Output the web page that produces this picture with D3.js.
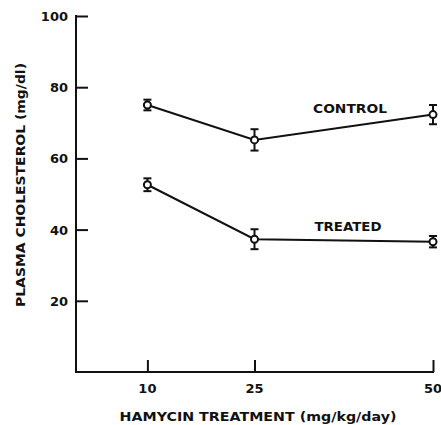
<!DOCTYPE html>
<html>
<head>
<meta charset="utf-8">
<script src="https://cdn.jsdelivr.net/npm/d3@7"></script>
<style>
  body { margin: 0; background: #fff; }
  text { font-family: "DejaVu Sans", sans-serif; font-weight: bold; fill: #111; }
</style>
</head>
<body>
<svg id="chart"></svg>
<script>
const w = 441;
const h = 425;

// doses (mg/kg/day)
const doses = [10, 25, 50];
// plasma cholesterol means and error (mg/dl)
const controlMean = [75, 65.2, 72.3];
const controlErr = [1.5, 3, 2.7];
const treatedMean = [52.6, 37.3, 36.6];
const treatedErr = [1.8, 2.8, 1.6];
const yTicks = [20, 40, 60, 80, 100];

const x = d3.scaleLinear().domain([0, 50]).range([76, 433]);
const y = d3.scaleLinear().domain([0, 100]).range([372, 16]);

let svg = d3.select('#chart')
  .attr('width', w)
  .attr('height', h);

//y axis, ticks pointing inward
let yAxis = svg.append('g')
  .attr('transform', `translate(${x(0)},0)`)
  .call(d3.axisRight(y).tickValues(yTicks).tickSize(12).tickFormat(''));
yAxis.select('.domain').remove();
yAxis.selectAll('line').attr('stroke', '#111').attr('stroke-width', 2);

svg.append('line')
  .attr('x1', x(0)).attr('x2', x(0))
  .attr('y1', y(100) - 1).attr('y2', y(0) + 1)
  .attr('stroke', '#111').attr('stroke-width', 2);

svg.selectAll('text.ylab')
  .data(yTicks)
  .enter()
  .append('text')
    .attr('class', 'ylab')
    .attr('x', x(0) - 8)
    .attr('y', d => y(d) + 5)
    .attr('text-anchor', 'end')
    .style('font-size', '13px')
    .text(d => d);

//x axis, ticks pointing up
let xAxis = svg.append('g')
  .attr('transform', `translate(0,${y(0)})`)
  .call(d3.axisTop(x).tickValues(doses).tickSize(12).tickFormat(''));
xAxis.select('.domain').remove();
xAxis.selectAll('line').attr('stroke', '#111').attr('stroke-width', 2);

svg.append('line')
  .attr('x1', x(0) - 1).attr('x2', x(50) + 1)
  .attr('y1', y(0)).attr('y2', y(0))
  .attr('stroke', '#111').attr('stroke-width', 2);

svg.selectAll('text.xlab')
  .data(doses)
  .enter()
  .append('text')
    .attr('class', 'xlab')
    .attr('x', d => x(d))
    .attr('y', y(0) + 21)
    .attr('text-anchor', 'middle')
    .style('font-size', '13px')
    .text(d => d);

//axis titles
svg.append('text')
  .attr('x', 258)
  .attr('y', 421)
  .attr('text-anchor', 'middle')
  .attr('textLength', 277)
  .attr('lengthAdjust', 'spacingAndGlyphs')
  .style('font-size', '13px')
  .text('HAMYCIN TREATMENT (mg/kg/day)');

svg.append('text')
  .attr('transform', 'translate(25,185) rotate(-90)')
  .attr('text-anchor', 'middle')
  .attr('textLength', 244)
  .attr('lengthAdjust', 'spacingAndGlyphs')
  .style('font-size', '12.5px')
  .text('PLASMA CHOLESTEROL (mg/dl)');

//series
const series = [
  { name: 'CONTROL', mean: controlMean, err: controlErr },
  { name: 'TREATED', mean: treatedMean, err: treatedErr }
];
const labelPos = [{ x: 350, y: 113, len: 74 }, { x: 348, y: 231, len: 67 }];

let line = d3.line()
  .x((d, i) => x(doses[i]))
  .y(d => y(d));

series.forEach((s, k) => {
  let g = svg.append('g');
  g.append('path')
    .attr('d', line(s.mean))
    .attr('fill', 'none')
    .attr('stroke', '#111')
    .attr('stroke-width', 2);

  s.mean.forEach((m, i) => {
    let cx = x(doses[i]);
    let top = y(m + s.err[i]);
    let bot = y(m - s.err[i]);
    g.append('line')
      .attr('x1', cx).attr('x2', cx)
      .attr('y1', top).attr('y2', bot)
      .attr('stroke', '#111').attr('stroke-width', 2);
    [top, bot].forEach(yy => {
      g.append('line')
        .attr('x1', cx - 4).attr('x2', cx + 4)
        .attr('y1', yy).attr('y2', yy)
        .attr('stroke', '#111').attr('stroke-width', 2);
    });
    g.append('circle')
      .attr('cx', cx)
      .attr('cy', y(m))
      .attr('r', 3.5)
      .attr('fill', '#fff')
      .attr('stroke', '#111')
      .attr('stroke-width', 2);
  });

  svg.append('text')
    .attr('x', labelPos[k].x)
    .attr('y', labelPos[k].y)
    .attr('text-anchor', 'middle')
    .attr('textLength', labelPos[k].len)
    .attr('lengthAdjust', 'spacingAndGlyphs')
    .style('font-size', '13px')
    .text(s.name);
});
</script>
</body>
</html>
